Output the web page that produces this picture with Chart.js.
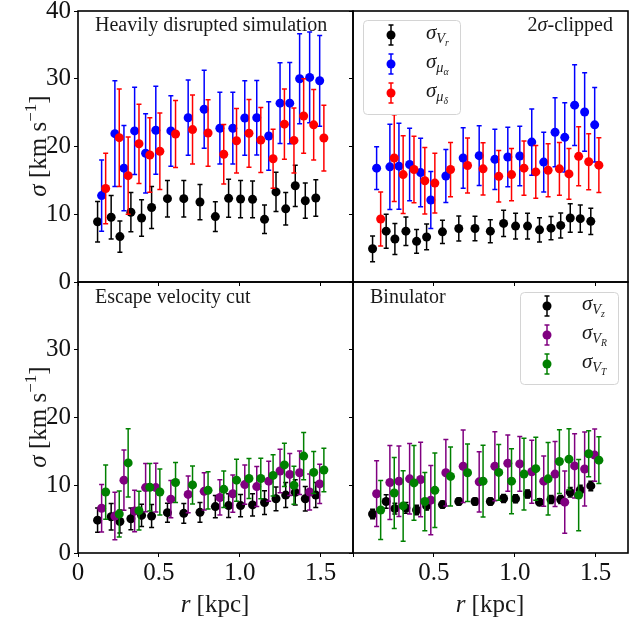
<!DOCTYPE html>
<html><head><meta charset="utf-8">
<script src="https://cdn.jsdelivr.net/npm/chart.js@4"></script>
<style>
body{margin:0;background:#fff;}
#wrap{position:relative;width:639px;height:619px;overflow:hidden;font-family:"Liberation Serif",serif;color:#1a1a1a;}
canvas{position:absolute;left:0;top:0;}
.t{position:absolute;white-space:nowrap;line-height:1;}
.pl{font-size:20px;}
.ax{font-size:25px;transform:translate(-50%,-50%);}
.axv{font-size:25px;transform:translate(-50%,-50%) rotate(-90deg);}
.leg{font-size:21px;}
.leg sub{font-size:68%;vertical-align:-0.3em;}
sup{font-size:68%;vertical-align:0.55em;}
</style>
</head><body>
<div id="wrap">
<canvas id="c1" width="639" height="619"></canvas>
<canvas id="c2" width="639" height="619"></canvas>
<canvas id="c3" width="639" height="619"></canvas>
<canvas id="c4" width="639" height="619"></canvas>

<div class="t pl" style="left:95px;top:14px;">Heavily disrupted simulation</div>
<div class="t pl" style="right:26px;top:14px;">2<i>σ</i>-clipped</div>
<div class="t pl" style="left:95px;top:286px;">Escape velocity cut</div>
<div class="t pl" style="left:370px;top:286px;">Binulator</div>

<div class="t leg" style="left:426px;top:22px;"><i>σ</i><sub><i>V</i><sub><i>r</i></sub></sub></div>
<div class="t leg" style="left:426px;top:51px;"><i>σ</i><sub><i>μ</i><sub><i>α</i></sub></sub></div>
<div class="t leg" style="left:426px;top:80px;"><i>σ</i><sub><i>μ</i><sub><i>δ</i></sub></sub></div>

<div class="t leg" style="left:582px;top:293px;"><i>σ</i><sub><i>V</i><sub><i>z</i></sub></sub></div>
<div class="t leg" style="left:582px;top:322px;"><i>σ</i><sub><i>V</i><sub><i>R</i></sub></sub></div>
<div class="t leg" style="left:582px;top:351px;"><i>σ</i><sub><i>V</i><sub><i>T</i></sub></sub></div>

<div class="t axv" style="left:36px;top:146px;"><i>σ</i> [km s<sup>−1</sup>]</div>
<div class="t axv" style="left:36px;top:417px;"><i>σ</i> [km s<sup>−1</sup>]</div>
<div class="t ax" style="left:215px;top:603px;"><i>r</i> [kpc]</div>
<div class="t ax" style="left:490px;top:603px;"><i>r</i> [kpc]</div>
</div>
<script>
// ---- data ----
const xTicks = [0, 0.5, 1.0, 1.5];
const xTickLabels = ['0', '0.5', '1.0', '1.5'];
const yTicks = [0, 10, 20, 30, 40];
const yTickLabels = ['0', '10', '20', '30', '40'];

// radial bin positions (kpc) of the three series in every panel
const rA = [0.121, 0.205, 0.259, 0.327, 0.393, 0.455, 0.553, 0.654, 0.754, 0.849, 0.931, 1.005, 1.079, 1.153, 1.224, 1.284, 1.343, 1.405, 1.470];
const rB = [0.146, 0.228, 0.284, 0.350, 0.418, 0.481, 0.574, 0.681, 0.780, 0.877, 0.957, 1.031, 1.105, 1.179, 1.249, 1.309, 1.370, 1.432, 1.494];
const rC = [0.171, 0.255, 0.310, 0.377, 0.444, 0.506, 0.603, 0.708, 0.804, 0.901, 0.980, 1.057, 1.130, 1.206, 1.276, 1.335, 1.395, 1.457, 1.520];

// Heavily disrupted simulation
const hdVr = [8.9, 9.55, 6.7, 10.3, 9.45, 11.0, 12.3, 12.3, 11.8, 9.65, 12.35, 12.25, 12.2, 9.25, 13.3, 10.8, 14.2, 12.0, 12.4];
const hdVrErr = [3.0, 3.2, 2.3, 2.9, 2.7, 3.1, 2.7, 2.7, 2.6, 2.2, 2.8, 2.75, 2.7, 2.1, 2.9, 2.4, 3.05, 2.6, 2.7];
const hdMa = [12.75, 21.9, 16.8, 22.3, 19.0, 22.4, 22.3, 24.25, 25.5, 22.7, 22.7, 24.2, 24.25, 21.55, 26.4, 26.4, 30.0, 30.2, 29.7];
const hdMaErr = [5.25, 7.8, 6.3, 6.45, 5.85, 6.5, 5.2, 5.55, 5.75, 5.3, 5.3, 5.5, 5.5, 5.05, 5.95, 6.0, 6.65, 6.7, 6.7];
const hdMd = [13.8, 21.3, 15.7, 20.4, 18.75, 19.3, 21.85, 22.5, 22.0, 18.85, 20.85, 21.95, 20.95, 18.2, 23.3, 20.9, 24.5, 23.2, 21.25];
const hdMdErr = [5.2, 7.2, 5.7, 5.85, 5.5, 5.65, 4.95, 5.1, 4.9, 4.4, 4.75, 5.0, 4.8, 4.35, 5.2, 4.8, 5.5, 5.2, 4.85];

// 2-sigma clipped
const clVr = [4.9, 7.5, 6.35, 7.5, 6.0, 6.65, 7.4, 7.9, 7.9, 7.5, 8.65, 8.25, 8.25, 7.7, 7.95, 8.35, 9.45, 9.35, 8.95];
const clVrErr = [1.9, 2.5, 2.3, 2.1, 1.75, 1.9, 1.7, 1.85, 1.8, 1.7, 1.95, 1.9, 1.9, 1.8, 1.7, 1.85, 2.1, 2.0, 1.95];
const clMa = [16.8, 17.0, 17.1, 17.35, 16.15, 12.1, 15.65, 18.3, 18.65, 18.1, 18.45, 18.6, 20.65, 17.7, 22.1, 21.35, 26.1, 25.1, 23.2];
const clMaErr = [3.15, 6.3, 6.35, 5.35, 5.05, 4.2, 3.9, 4.45, 4.4, 4.45, 4.4, 4.4, 4.9, 4.4, 5.1, 5.1, 5.95, 5.8, 5.5];
const clMd = [9.3, 18.3, 15.85, 16.6, 14.95, 14.6, 16.6, 17.2, 16.7, 15.6, 15.85, 16.8, 16.25, 16.5, 16.7, 15.95, 18.55, 17.75, 17.25];
const clMdErr = [4.0, 6.4, 5.75, 4.9, 4.9, 4.4, 4.0, 4.05, 3.85, 3.8, 3.85, 4.0, 3.9, 3.9, 3.9, 3.75, 4.35, 4.15, 4.05];

// Escape velocity cut
const esVz = [4.85, 5.35, 4.65, 5.05, 5.55, 5.45, 5.95, 5.85, 6.0, 6.85, 7.0, 7.0, 7.1, 7.45, 8.0, 8.55, 8.95, 8.0, 8.55];
const esVzErr = [1.8, 1.95, 1.7, 1.6, 1.65, 1.7, 1.4, 1.45, 1.45, 1.65, 1.75, 1.65, 1.65, 1.75, 1.75, 1.85, 1.85, 1.8, 1.85];
const esVR = [6.6, 5.45, 10.75, 6.2, 9.65, 9.65, 7.95, 8.65, 9.1, 8.2, 8.75, 10.1, 9.8, 10.6, 12.1, 11.6, 11.85, 9.0, 10.2];
const esVRErr = [3.5, 3.5, 4.45, 3.05, 3.55, 3.6, 2.75, 2.7, 2.75, 2.6, 2.75, 2.9, 2.95, 2.95, 3.2, 3.1, 3.2, 2.65, 2.9];
const esVT = [9.0, 5.75, 13.3, 6.25, 9.7, 9.0, 10.4, 10.05, 9.25, 9.4, 10.75, 11.0, 11.0, 11.45, 13.0, 10.0, 14.3, 11.9, 12.25];
const esVTErr = [4.0, 3.4, 5.05, 2.85, 3.5, 3.4, 2.95, 2.8, 2.75, 2.7, 3.1, 2.95, 3.0, 3.05, 3.2, 2.8, 3.5, 3.1, 3.2];

// Binulator
const bnVz = [5.75, 7.6, 6.55, 6.65, 6.35, 6.95, 7.15, 7.6, 7.6, 7.6, 8.05, 8.0, 8.7, 7.5, 7.9, 7.9, 8.95, 9.3, 9.9];
const bnVzErr = [0.7, 1.0, 0.8, 0.8, 0.7, 0.6, 0.5, 0.5, 0.5, 0.5, 0.6, 0.6, 0.6, 0.5, 0.6, 0.6, 0.7, 0.7, 0.7];
const bnVR = [8.75, 10.4, 10.6, 10.95, 10.85, 7.8, 11.85, 12.8, 10.5, 12.8, 13.25, 13.15, 12.0, 10.6, 11.65, 7.5, 12.85, 12.4, 14.45];
const bnVRErr = [4.85, 5.45, 5.2, 5.2, 5.5, 5.1, 4.9, 5.35, 4.45, 5.1, 4.15, 4.05, 4.65, 3.7, 4.8, 4.6, 4.75, 5.45, 3.85];
const bnVT = [6.35, 8.85, 6.95, 10.35, 7.6, 9.25, 11.3, 11.85, 10.6, 11.9, 10.6, 11.65, 12.45, 10.95, 13.5, 13.85, 8.55, 14.65, 13.7];
const bnVTErr = [4.35, 5.25, 5.2, 5.5, 4.3, 5.5, 4.35, 4.25, 5.3, 4.1, 4.8, 5.3, 4.65, 5.35, 4.7, 4.5, 5.25, 3.4, 3.45];

// ---- drawing ----
const W = 639, H = 619, WY = 50, HX = 50;
const TICKFONT = {family: 'Liberation Serif', size: 25};

const errorBars = {
  id: 'errorBars',
  beforeDatasetDraw(chart, args) {
    const ds = chart.data.datasets[args.index];
    const xs = chart.scales.x, ys = chart.scales.y, ctx = chart.ctx;
    ctx.save();
    ctx.strokeStyle = ds.borderColor;
    ctx.lineWidth = 1.5;
    ds.data.forEach((p, i) => {
      const e = ds.errors[i];
      const px = xs.getPixelForValue(p.x);
      const t = ys.getPixelForValue(p.y + e), b = ys.getPixelForValue(p.y - e);
      ctx.beginPath();
      ctx.moveTo(px, t); ctx.lineTo(px, b);
      ctx.moveTo(px - 2.5, t); ctx.lineTo(px + 2.5, t);
      ctx.moveTo(px - 2.5, b); ctx.lineTo(px + 2.5, b);
      ctx.stroke();
    });
    ctx.restore();
  }
};

const deco = {
  id: 'deco',
  afterDraw(chart, args, opts) {
    const ctx = chart.ctx, a = chart.chartArea;
    ctx.save();
    if (opts.legend) {
      const L = opts.legend;
      const bx = a.left + L.x, by = a.top + L.y;
      ctx.beginPath();
      ctx.roundRect(bx + 0.5, by + 0.5, L.w, L.h, 4);
      ctx.fillStyle = 'rgba(255,255,255,0.8)';
      ctx.fill();
      ctx.strokeStyle = '#d4d4d4';
      ctx.lineWidth = 1;
      ctx.stroke();
      L.colors.forEach((c, k) => {
        const mx = bx + L.mx, my = by + L.my + k * 29;
        ctx.strokeStyle = c; ctx.fillStyle = c; ctx.lineWidth = 1.5;
        ctx.beginPath();
        ctx.moveTo(mx, my - 10); ctx.lineTo(mx, my + 10);
        ctx.moveTo(mx - 2.5, my - 10); ctx.lineTo(mx + 2.5, my - 10);
        ctx.moveTo(mx - 2.5, my + 10); ctx.lineTo(mx + 2.5, my + 10);
        ctx.stroke();
        ctx.beginPath(); ctx.arc(mx, my, 4.5, 0, Math.PI * 2); ctx.fill();
      });
    }
    ctx.strokeStyle = '#000';
    ctx.lineWidth = 1.6;
    ctx.strokeRect(a.left, a.top, a.right - a.left, a.bottom - a.top);
    ctx.restore();
  }
};

function panel(id, rect, series, xLab, yLab, legend) {
  const datasets = series.map((s, k) => ({
    data: s.x.map((xv, i) => ({x: xv, y: s.y[i]})),
    errors: s.e,
    backgroundColor: s.c, borderColor: s.c,
    pointRadius: 4.5, pointHoverRadius: 4.5, pointBorderWidth: 0,
    showLine: false, order: series.length - k
  }));
  const gridOpt = {display: true, drawOnChartArea: false, drawTicks: true, tickLength: 4, color: '#000', lineWidth: 1};
  new Chart(document.getElementById(id), {
    type: 'scatter',
    data: {datasets},
    options: {
      responsive: false, animation: false, events: [],
      layout: {padding: {left: rect.L - WY, top: rect.T, right: W - rect.R, bottom: H - rect.B - HX}},
      plugins: {legend: {display: false}, tooltip: {enabled: false}, deco: {legend}},
      scales: {
        x: {
          type: 'linear', min: 0, max: 1.7,
          afterBuildTicks: sc => { sc.ticks = xTicks.map(v => ({value: v})); },
          afterFit: sc => { sc.height = HX; sc.paddingLeft = 0; sc.paddingRight = 0; },
          ticks: {display: !!xLab, autoSkip: false, maxRotation: 0, padding: 1, font: TICKFONT, color: '#111',
                  callback: (v, i) => xLab ? xLab[i] : ''},
          grid: gridOpt, border: {display: false}
        },
        y: {
          type: 'linear', min: 0, max: 40,
          afterBuildTicks: sc => { sc.ticks = yTicks.map(v => ({value: v})); },
          afterFit: sc => { sc.width = WY; sc.paddingTop = 0; sc.paddingBottom = 0; },
          ticks: {display: !!yLab, autoSkip: false, padding: 3, font: TICKFONT, color: '#111',
                  callback: (v, i) => yLab ? yLab[i] : ''},
          grid: gridOpt, border: {display: false}
        }
      }
    },
    plugins: [errorBars, deco]
  });
}

const BLK = '#000000', BLU = '#0000ff', RED = '#ff0000', PUR = '#800080', GRN = '#008000';

panel('c1', {L: 78, T: 11, R: 353, B: 282}, [
  {x: rA, y: hdVr, e: hdVrErr, c: BLK},
  {x: rB, y: hdMa, e: hdMaErr, c: BLU},
  {x: rC, y: hdMd, e: hdMdErr, c: RED}
], null, yTickLabels, null);

panel('c2', {L: 353, T: 11, R: 628, B: 282}, [
  {x: rA, y: clVr, e: clVrErr, c: BLK},
  {x: rB, y: clMa, e: clMaErr, c: BLU},
  {x: rC, y: clMd, e: clMdErr, c: RED}
], null, null, {x: 10, y: 9, w: 97, h: 94, mx: 28, my: 15, colors: [BLK, BLU, RED]});

panel('c3', {L: 78, T: 282, R: 353, B: 553}, [
  {x: rA, y: esVz, e: esVzErr, c: BLK},
  {x: rB, y: esVR, e: esVRErr, c: PUR},
  {x: rC, y: esVT, e: esVTErr, c: GRN}
], xTickLabels, yTickLabels.map((s, i) => i === yTickLabels.length - 1 ? '' : s), null);

panel('c4', {L: 353, T: 282, R: 628, B: 553}, [
  {x: rA, y: bnVz, e: bnVzErr, c: BLK},
  {x: rB, y: bnVR, e: bnVRErr, c: PUR},
  {x: rC, y: bnVT, e: bnVTErr, c: GRN}
], xTickLabels.map((s, i) => i === 0 ? '' : s), null, {x: 167, y: 10, w: 98, h: 92, mx: 27, my: 14, colors: [BLK, PUR, GRN]});
</script>
</body></html>
